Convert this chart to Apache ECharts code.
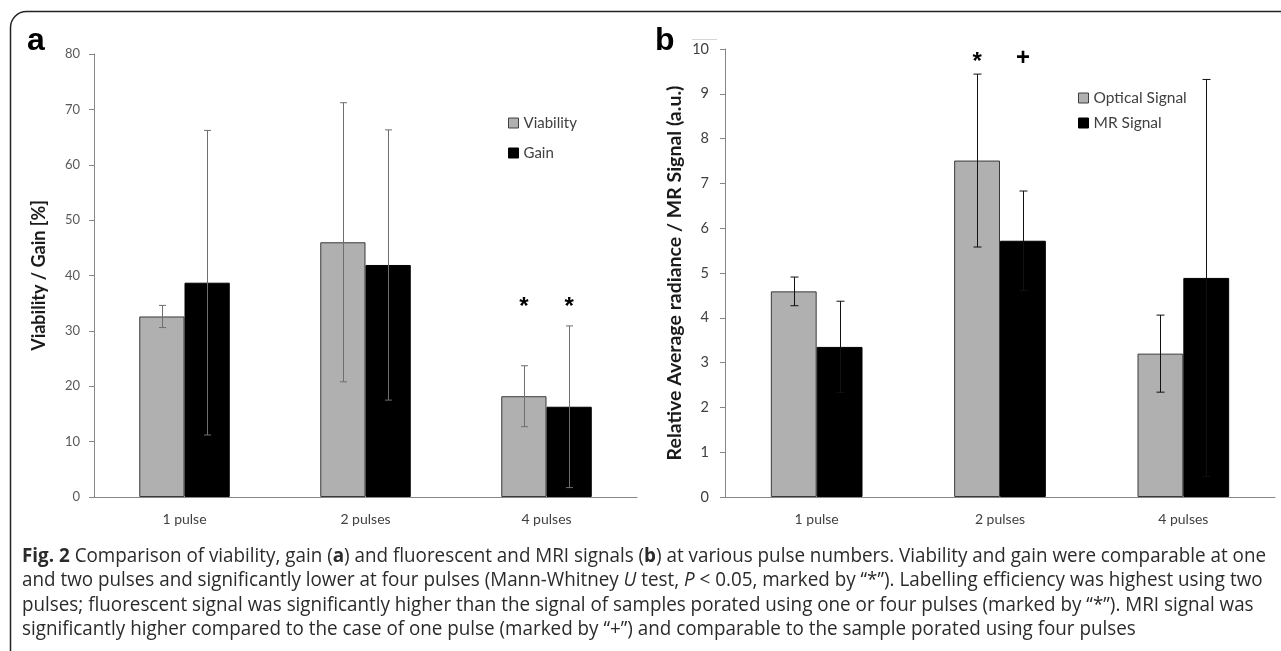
<!DOCTYPE html>
<html>
<head>
<meta charset="utf-8">
<script src="https://cdn.jsdelivr.net/npm/echarts@6/dist/echarts.min.js"></script>
<style>
html,body{margin:0;padding:0;background:#fff;}
#chart{width:1281px;height:651px;}
</style>
</head>
<body>
<div id="chart"></div>
<script>
// ---------- data ----------
var categories = ['1 pulse', '2 pulses', '4 pulses'];
// panel a
var viability   = [32.6, 46.0, 18.2];
var viabilitySD = [2.0, 25.2, 5.5];
var gain        = [38.7, 41.9, 16.3];
var gainSD      = [27.5, 24.4, 14.6];
var yTicksA = { min: 0, max: 80, interval: 10 };
// panel b
var optical   = [4.59, 7.51, 3.20];
var opticalSD = [0.32, 1.93, 0.86];
var mrSignal  = [3.35, 5.72, 4.89];
var mrSD      = [1.02, 1.11, 4.43];
var yTicksB = { min: 0, max: 10, interval: 1 };
// significance markers: [category index, series slot (0 left / 1 right), value, symbol]
var markersA = [[2, 0, 34.3, '*'], [2, 1, 34.3, '*']];
var markersB = [[1, 0, 9.70, '*'], [1, 1, 9.80, '+']];

var captionLines = [
  [['b','Fig. 2'],['n',' Comparison of viability, gain ('],['b','a'],['n',') and fluorescent and MRI signals ('],['b','b'],['n',') at various pulse numbers. Viability and gain were comparable at one']],
  [['n','and two pulses and significantly lower at four pulses (Mann-Whitney '],['i','U'],['n',' test, '],['i','P'],['n',' < 0.05, marked by \u201c*\u201d). Labelling efficiency was highest using two']],
  [['n','pulses; fluorescent signal was significantly higher than the signal of samples porated using one or four pulses (marked by \u201c*\u201d). MRI signal was']],
  [['n','significantly higher compared to the case of one pulse (marked by \u201c+\u201d) and comparable to the sample porated using four pulses']]
];

// ---------- styles ----------
var FONT = 'Lato, "Open Sans", sans-serif';
var CAP_FONT = '"Open Sans", "Noto Sans", sans-serif';
var AXIS_COLOR = '#868686';
var GRAY = '#b0b0b0';

var chart = echarts.init(document.getElementById('chart'), null, {renderer: 'canvas'});

function errSeries(name, xi, vals, sds, off, color, capHalf) {
  return {
    name: name, type: 'custom', xAxisIndex: xi, yAxisIndex: xi, z: 10,
    silent: true,
    data: vals.map(function (v, i) { return [i, v - sds[i], v + sds[i]]; }),
    renderItem: function (params, api) {
      var i = api.value(0);
      var lo = api.coord([i, api.value(1)]);
      var hi = api.coord([i, api.value(2)]);
      var band = api.size([1, 0])[0];
      var x = Math.round(lo[0] + off * band) + 0.5;
      var st = { stroke: color, lineWidth: 1 };
      return { type: 'group', children: [
        { type: 'line', shape: { x1: x, y1: lo[1], x2: x, y2: hi[1] }, style: st },
        { type: 'line', shape: { x1: x - capHalf, y1: hi[1], x2: x + capHalf, y2: hi[1] }, style: st },
        { type: 'line', shape: { x1: x - capHalf, y1: lo[1], x2: x + capHalf, y2: lo[1] }, style: st }
      ]};
    }
  };
}

function markerSeries(name, xi, markers, fontSize) {
  return {
    name: name, type: 'custom', xAxisIndex: xi, yAxisIndex: xi, z: 11, silent: true,
    data: markers.map(function (m) { return [m[0], m[2], m[1]]; }),
    renderItem: function (params, api) {
      var i = api.value(0);
      var p = api.coord([i, api.value(1)]);
      var band = api.size([1, 0])[0];
      var off = api.value(2) === 0 ? -0.125 : 0.125;
      return { type: 'text', x: p[0] + off * band, y: p[1],
        style: { text: markers[params.dataIndex][3], fill: '#000', align: 'center', verticalAlign: 'middle',
                 font: 'bold ' + fontSize + 'px "Liberation Sans", Arial, sans-serif' } };
    }
  };
}

function barSeries(name, xi, vals, color, border) {
  return {
    name: name, type: 'bar', xAxisIndex: xi, yAxisIndex: xi,
    data: vals, barGap: '0%', barCategoryGap: '50%',
    itemStyle: { color: color, borderColor: border, borderWidth: 1 },
    emphasis: { disabled: true }
  };
}

function yAxis(gi, t, fs, col, name, gap, nfs) {
  return {
    type: 'value', gridIndex: gi, min: t.min, max: t.max, interval: t.interval,
    splitLine: { show: false },
    axisLine: { show: true, lineStyle: { color: AXIS_COLOR, width: 1 } },
    axisTick: { show: true, length: 5, lineStyle: { color: AXIS_COLOR } },
    axisLabel: { fontSize: fs, color: col, fontFamily: FONT, margin: gi === 0 ? 14 : 16 },
    name: name, nameLocation: 'middle', nameGap: gap, nameRotate: 90,
    nameTextStyle: { fontSize: nfs, fontWeight: 'bold', color: '#1a1a1a', fontFamily: FONT }
  };
}

function xAxis(gi) {
  return {
    type: 'category', gridIndex: gi, data: categories,
    axisLine: { show: true, lineStyle: { color: AXIS_COLOR, width: 1 } },
    axisTick: { show: false },
    axisLabel: { fontSize: 14, color: '#404040', fontFamily: FONT, margin: 15 }
  };
}

// caption measuring for horizontal scale
var cv = document.createElement('canvas').getContext('2d');
var CAP_SIZE = 20;
var CAP_X = 22, CAP_W = 1244;
function segFont(kind) {
  return (kind === 'b' ? 'bold ' : kind === 'i' ? 'italic ' : '') + CAP_SIZE + 'px ' + CAP_FONT;
}
function lineWidth(line) {
  var w = 0;
  line.forEach(function (s) { cv.font = segFont(s[0]); w += cv.measureText(s[1]).width; });
  return w;
}
var capScale = CAP_W / lineWidth(captionLines[0]);
var capElems = captionLines.map(function (line, k) {
  var txt = line.map(function (s) { return s[0] === 'n' ? s[1] : '{' + s[0] + '|' + s[1] + '}'; }).join('');
  return {
    type: 'text', x: CAP_X, y: 556 + k * 24.5, scaleX: capScale, silent: true,
    style: {
      text: txt, fill: '#2b2b2b', verticalAlign: 'middle', align: 'left',
      font: CAP_SIZE + 'px ' + CAP_FONT,
      rich: {
        b: { font: 'bold ' + CAP_SIZE + 'px ' + CAP_FONT, fill: '#2b2b2b' },
        i: { font: 'italic ' + CAP_SIZE + 'px ' + CAP_FONT, fill: '#2b2b2b' }
      }
    }
  };
});

var option = {
  animation: false,
  backgroundColor: '#ffffff',
  grid: [
    { left: 94, right: 644, top: 54, bottom: 154 },
    { left: 725, right: 6, top: 49, bottom: 154 }
  ],
  xAxis: [xAxis(0), xAxis(1)],
  yAxis: [
    yAxis(0, yTicksA, 13, '#595959', 'Viability / Gain [%]', 46, 18),
    yAxis(1, yTicksB, 14.5, '#404040', 'Relative Average radiance / MR Signal (a.u.)', 40, 19.5)
  ],
  legend: [
    { orient: 'vertical', left: 503, top: 110, itemWidth: 10, itemHeight: 10, itemGap: 14,
      selectedMode: false, icon: 'rect',
      textStyle: { fontSize: 15, color: '#404040', fontFamily: FONT, lineHeight: 16 },
      data: [
        { name: 'Viability', itemStyle: { color: GRAY, borderColor: '#404040', borderWidth: 1 } },
        { name: 'Gain', itemStyle: { color: '#000', borderColor: '#000', borderWidth: 1 } }
      ] },
    { orient: 'vertical', left: 1073, top: 85, itemWidth: 10, itemHeight: 10, itemGap: 9,
      selectedMode: false, icon: 'rect',
      textStyle: { fontSize: 15.5, color: '#404040', fontFamily: FONT, lineHeight: 16 },
      data: [
        { name: 'Optical Signal', itemStyle: { color: GRAY, borderColor: '#404040', borderWidth: 1 } },
        { name: 'MR Signal', itemStyle: { color: '#000', borderColor: '#000', borderWidth: 1 } }
      ] }
  ],
  series: [
    barSeries('Viability', 0, viability, GRAY, '#3a3a3a'),
    barSeries('Gain', 0, gain, '#000000', '#000000'),
    barSeries('Optical Signal', 1, optical, GRAY, '#3a3a3a'),
    barSeries('MR Signal', 1, mrSignal, '#000000', '#000000'),
    errSeries('errV', 0, viability, viabilitySD, -0.125, '#6e6e6e', 3.5),
    errSeries('errG', 0, gain, gainSD, 0.125, '#6e6e6e', 3.5),
    errSeries('errO', 1, optical, opticalSD, -0.125, '#111', 4),
    errSeries('errM', 1, mrSignal, mrSD, 0.125, '#111', 4),
    markerSeries('markA', 0, markersA, 24),
    markerSeries('markB', 1, markersB, 24)
  ],
  graphic: [
    { type: 'rect', silent: true,
      shape: { x: 10.5, y: 11.5, width: 1500, height: 900, r: 16 },
      style: { stroke: '#222', lineWidth: 1.5, fill: null } },
    { type: 'text', x: 27, y: 41, silent: true,
      style: { text: 'a', font: 'bold 32px "Liberation Sans", Arial, sans-serif', fill: '#000', verticalAlign: 'middle' } },
    { type: 'text', x: 655, y: 41, silent: true,
      style: { text: 'b', font: 'bold 32px "Liberation Sans", Arial, sans-serif', fill: '#000', verticalAlign: 'middle' } },
    { type: 'line', silent: true, shape: { x1: 692, y1: 39.5, x2: 717, y2: 39.5 }, style: { stroke: '#d6d6d6', lineWidth: 1 } }
  ].concat(capElems)
};
chart.setOption(option);
</script>
</body>
</html>
